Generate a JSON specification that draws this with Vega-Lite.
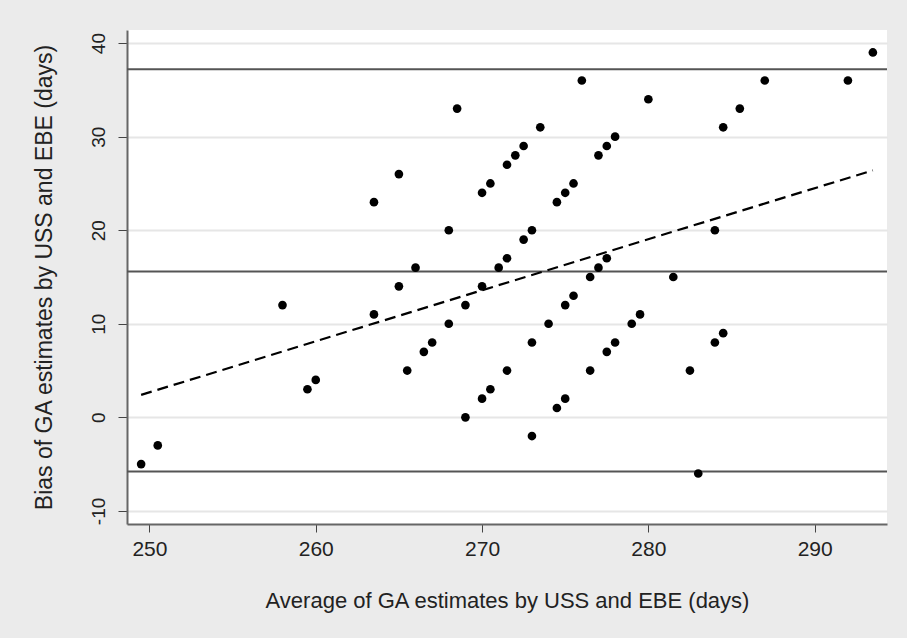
{
  "$schema": "https://vega.github.io/schema/vega-lite/v6.json",
  "width": 760,
  "height": 494,
  "autosize": {"type": "none"},
  "padding": {"left": 127, "top": 30, "right": 20, "bottom": 114},
  "background": "#ebebeb",
  "config": {
    "view": {"fill": "white", "stroke": null},
    "font": "Liberation Sans"
  },
  "datasets": {
    "pts": [
      {"avg": 249.5, "bias": -5}, {"avg": 250.5, "bias": -3}, {"avg": 258, "bias": 12},
      {"avg": 259.5, "bias": 3}, {"avg": 260, "bias": 4}, {"avg": 263.5, "bias": 23},
      {"avg": 263.5, "bias": 11}, {"avg": 265, "bias": 26}, {"avg": 265, "bias": 14},
      {"avg": 265.5, "bias": 5}, {"avg": 266, "bias": 16}, {"avg": 266.5, "bias": 7},
      {"avg": 267, "bias": 8}, {"avg": 268, "bias": 20}, {"avg": 268, "bias": 10},
      {"avg": 268.5, "bias": 33}, {"avg": 269, "bias": 12}, {"avg": 269, "bias": 0},
      {"avg": 270, "bias": 24}, {"avg": 270, "bias": 14}, {"avg": 270, "bias": 2},
      {"avg": 270.5, "bias": 25}, {"avg": 270.5, "bias": 3}, {"avg": 271, "bias": 16},
      {"avg": 271.5, "bias": 27}, {"avg": 271.5, "bias": 17}, {"avg": 271.5, "bias": 5},
      {"avg": 272, "bias": 28}, {"avg": 272.5, "bias": 29}, {"avg": 272.5, "bias": 19},
      {"avg": 273, "bias": 20}, {"avg": 273, "bias": 8}, {"avg": 273, "bias": -2},
      {"avg": 273.5, "bias": 31}, {"avg": 274, "bias": 10}, {"avg": 274.5, "bias": 23},
      {"avg": 274.5, "bias": 1}, {"avg": 275, "bias": 24}, {"avg": 275, "bias": 12},
      {"avg": 275, "bias": 2}, {"avg": 275.5, "bias": 25}, {"avg": 275.5, "bias": 13},
      {"avg": 276, "bias": 36}, {"avg": 276.5, "bias": 15}, {"avg": 276.5, "bias": 5},
      {"avg": 277, "bias": 28}, {"avg": 277, "bias": 16}, {"avg": 277.5, "bias": 29},
      {"avg": 277.5, "bias": 17}, {"avg": 277.5, "bias": 7}, {"avg": 278, "bias": 30},
      {"avg": 278, "bias": 8}, {"avg": 279, "bias": 10}, {"avg": 279.5, "bias": 11},
      {"avg": 280, "bias": 34}, {"avg": 281.5, "bias": 15}, {"avg": 282.5, "bias": 5},
      {"avg": 283, "bias": -6}, {"avg": 284, "bias": 20}, {"avg": 284, "bias": 8},
      {"avg": 284.5, "bias": 31}, {"avg": 284.5, "bias": 9}, {"avg": 285.5, "bias": 33},
      {"avg": 287, "bias": 36}, {"avg": 292, "bias": 36}, {"avg": 293.5, "bias": 39}
    ],
    "limits": [
      {"level": 37.2}, {"level": 15.6}, {"level": -5.8}
    ],
    "fit": [
      {"avg": 249.5, "bias": 2.4}, {"avg": 293.5, "bias": 26.4}
    ]
  },
  "layer": [
    {
      "data": {"name": "limits"},
      "mark": {"type": "rule", "color": "#555555", "strokeWidth": 2},
      "encoding": {
        "y": {"field": "level", "type": "quantitative", "scale": {"domain": [-11.4, 41.4], "nice": false, "zero": false}}
      }
    },
    {
      "data": {"name": "fit"},
      "mark": {"type": "line", "color": "black", "strokeWidth": 2.2, "strokeDash": [11, 6]},
      "encoding": {
        "x": {"field": "avg", "type": "quantitative"},
        "y": {"field": "bias", "type": "quantitative"}
      }
    },
    {
      "data": {"name": "pts"},
      "mark": {"type": "circle", "color": "black", "opacity": 1, "size": 75},
      "encoding": {
        "x": {
          "field": "avg", "type": "quantitative",
          "scale": {"domain": [248.65, 294.35], "nice": false, "zero": false},
          "axis": {
            "values": [250, 260, 270, 280, 290],
            "title": "Average of GA estimates by USS and EBE (days)",
            "grid": false,
            "domainColor": "#666666", "domainWidth": 2,
            "tickColor": "#444444", "tickSize": 8, "tickWidth": 1,
            "labelFontSize": 21, "labelColor": "#222222", "labelPadding": 6,
            "titleFontSize": 22, "titleFontWeight": "normal", "titleColor": "#222222", "titlePadding": 31
          }
        },
        "y": {
          "field": "bias", "type": "quantitative",
          "scale": {"domain": [-11.4, 41.4], "nice": false, "zero": false},
          "axis": {
            "values": [-10, 0, 10, 20, 30, 40],
            "labelExpr": "'' + datum.value",
            "title": "Bias of GA estimates by USS and EBE (days)",
            "grid": true, "gridColor": "#e6e6e6", "gridWidth": 2,
            "domainColor": "#666666", "domainWidth": 2,
            "tickColor": "#444444", "tickSize": 9, "tickWidth": 1,
            "labelAngle": -90, "labelAlign": "center", "labelBaseline": "bottom",
            "labelFontSize": 19, "labelColor": "#222222", "labelPadding": 10,
            "titleFontSize": 23, "titleFontWeight": "normal", "titleColor": "#222222", "titlePadding": 33
          }
        }
      }
    }
  ]
}
